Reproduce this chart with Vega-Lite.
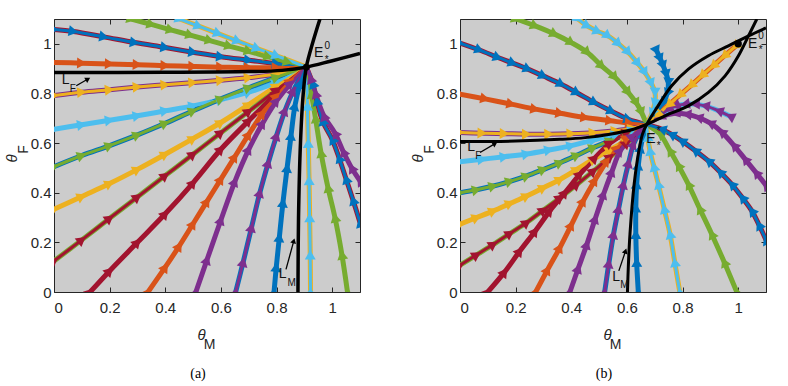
{
"$schema":"https://vega.github.io/schema/vega-lite/v6.json",
"padding":{"left":3,"top":18,"right":0,"bottom":0},
"bounds":"flush",
"spacing":100,
"background":"white",
"config":{
 "view":{"fill":"#cccccc","stroke":"#262626","strokeWidth":1},
 "axis":{"grid":false,"domain":false,"tickColor":"#262626","tickSize":-5,"tickWidth":1,"labelFont":"Liberation Sans","labelFontSize":15,"labelColor":"#262626","titleFont":"Liberation Sans","titleFontSize":15,"titleFontWeight":"normal","titleColor":"#262626"},
 "title":{"font":"Liberation Serif","fontSize":14,"fontWeight":"normal","color":"#000000"}
},
"datasets":{
"lines":[
{"i":"a1","p":"a","c":"blue","e":"red"},{"i":"a2","p":"a","c":"orange","e":"orange"},{"i":"a3","p":"a","c":"yellow","e":"purple"},{"i":"a4","p":"a","c":"cyan","e":"cyan"},{"i":"a5","p":"a","c":"green","e":"blue"},{"i":"a6","p":"a","c":"yellow","e":"yellow"},{"i":"a7","p":"a","c":"red","e":"green"},{"i":"a8","p":"a","c":"red","e":"red"},{"i":"a9","p":"a","c":"orange","e":"orange"},{"i":"a10","p":"a","c":"purple","e":"purple"},{"i":"a11","p":"a","c":"purple","e":"blue"},{"i":"a12","p":"a","c":"blue","e":"blue"},{"i":"a13","p":"a","c":"cyan","e":"yellow"},{"i":"a14","p":"a","c":"green","e":"green"},{"i":"a15","p":"a","c":"blue","e":"red"},{"i":"a16","p":"a","c":"purple","e":"purple"},{"i":"a17","p":"a","c":"green","e":"green"},{"i":"a18","p":"a","c":"cyan","e":"yellow"},
{"i":"b1","p":"b","c":"blue","e":"red"},{"i":"b2","p":"b","c":"orange","e":"orange"},{"i":"b3","p":"b","c":"yellow","e":"purple"},{"i":"b4","p":"b","c":"cyan","e":"cyan"},{"i":"b5","p":"b","c":"green","e":"blue"},{"i":"b6","p":"b","c":"yellow","e":"yellow"},{"i":"b7","p":"b","c":"red","e":"green"},{"i":"b8","p":"b","c":"red","e":"red"},{"i":"b9","p":"b","c":"orange","e":"orange"},{"i":"b10","p":"b","c":"purple","e":"purple"},{"i":"b11","p":"b","c":"purple","e":"blue"},{"i":"b12","p":"b","c":"blue","e":"blue"},{"i":"b13","p":"b","c":"cyan","e":"yellow"},{"i":"b14","p":"b","c":"green","e":"green"},{"i":"b15","p":"b","c":"blue","e":"red"},{"i":"b16","p":"b","c":"purple","e":"purple"},{"i":"b17","p":"b","c":"purple","e":"cyan"},{"i":"b18","p":"b","c":"blue","e":"blue"},{"i":"b19","p":"b","c":"yellow","e":"orange"},{"i":"b20","p":"b","c":"green","e":"green"},{"i":"b21","p":"b","c":"cyan","e":"yellow"}
],
"pts":[
{"i":"a1","x":0,"y":1.058},{"i":"a1","x":0.07,"y":1.05},{"i":"a1","x":0.18,"y":1.028},{"i":"a1","x":0.29,"y":1.005},{"i":"a1","x":0.4,"y":0.985},{"i":"a1","x":0.5,"y":0.966},{"i":"a1","x":0.6,"y":0.948},{"i":"a1","x":0.7,"y":0.934},{"i":"a1","x":0.8,"y":0.92},{"i":"a1","x":0.907,"y":0.906},
{"i":"a2","x":0,"y":0.925},{"i":"a2","x":0.1,"y":0.922},{"i":"a2","x":0.2,"y":0.919},{"i":"a2","x":0.3,"y":0.916},{"i":"a2","x":0.4,"y":0.912},{"i":"a2","x":0.5,"y":0.909},{"i":"a2","x":0.6,"y":0.906},{"i":"a2","x":0.7,"y":0.904},{"i":"a2","x":0.8,"y":0.904},{"i":"a2","x":0.907,"y":0.906},
{"i":"a3","x":0,"y":0.792},{"i":"a3","x":0.1,"y":0.805},{"i":"a3","x":0.2,"y":0.815},{"i":"a3","x":0.3,"y":0.826},{"i":"a3","x":0.4,"y":0.835},{"i":"a3","x":0.5,"y":0.844},{"i":"a3","x":0.6,"y":0.853},{"i":"a3","x":0.7,"y":0.864},{"i":"a3","x":0.8,"y":0.878},{"i":"a3","x":0.907,"y":0.906},
{"i":"a4","x":0,"y":0.656},{"i":"a4","x":0.1,"y":0.674},{"i":"a4","x":0.2,"y":0.692},{"i":"a4","x":0.3,"y":0.71},{"i":"a4","x":0.4,"y":0.73},{"i":"a4","x":0.5,"y":0.75},{"i":"a4","x":0.6,"y":0.775},{"i":"a4","x":0.7,"y":0.805},{"i":"a4","x":0.8,"y":0.845},{"i":"a4","x":0.907,"y":0.906},
{"i":"a5","x":0,"y":0.505},{"i":"a5","x":0.1,"y":0.55},{"i":"a5","x":0.2,"y":0.59},{"i":"a5","x":0.3,"y":0.633},{"i":"a5","x":0.4,"y":0.68},{"i":"a5","x":0.5,"y":0.73},{"i":"a5","x":0.6,"y":0.778},{"i":"a5","x":0.7,"y":0.823},{"i":"a5","x":0.8,"y":0.865},{"i":"a5","x":0.907,"y":0.906},
{"i":"a6","x":0,"y":0.333},{"i":"a6","x":0.1,"y":0.385},{"i":"a6","x":0.2,"y":0.437},{"i":"a6","x":0.3,"y":0.494},{"i":"a6","x":0.4,"y":0.555},{"i":"a6","x":0.5,"y":0.618},{"i":"a6","x":0.6,"y":0.683},{"i":"a6","x":0.7,"y":0.755},{"i":"a6","x":0.8,"y":0.83},{"i":"a6","x":0.907,"y":0.906},
{"i":"a7","x":0,"y":0.125},{"i":"a7","x":0.1,"y":0.21},{"i":"a7","x":0.2,"y":0.297},{"i":"a7","x":0.3,"y":0.383},{"i":"a7","x":0.4,"y":0.469},{"i":"a7","x":0.5,"y":0.555},{"i":"a7","x":0.6,"y":0.642},{"i":"a7","x":0.7,"y":0.728},{"i":"a7","x":0.8,"y":0.814},{"i":"a7","x":0.907,"y":0.906},
{"i":"a8","x":0.13,"y":0},{"i":"a8","x":0.2,"y":0.085},{"i":"a8","x":0.3,"y":0.2},{"i":"a8","x":0.4,"y":0.315},{"i":"a8","x":0.5,"y":0.44},{"i":"a8","x":0.6,"y":0.575},{"i":"a8","x":0.7,"y":0.69},{"i":"a8","x":0.8,"y":0.8},{"i":"a8","x":0.907,"y":0.906},
{"i":"a9","x":0.338,"y":0},{"i":"a9","x":0.4,"y":0.1},{"i":"a9","x":0.45,"y":0.185},{"i":"a9","x":0.5,"y":0.275},{"i":"a9","x":0.55,"y":0.365},{"i":"a9","x":0.6,"y":0.455},{"i":"a9","x":0.65,"y":0.545},{"i":"a9","x":0.7,"y":0.635},{"i":"a9","x":0.75,"y":0.72},{"i":"a9","x":0.8,"y":0.79},{"i":"a9","x":0.85,"y":0.85},{"i":"a9","x":0.907,"y":0.906},
{"i":"a10","x":0.51,"y":0},{"i":"a10","x":0.55,"y":0.13},{"i":"a10","x":0.6,"y":0.29},{"i":"a10","x":0.65,"y":0.445},{"i":"a10","x":0.7,"y":0.575},{"i":"a10","x":0.75,"y":0.68},{"i":"a10","x":0.8,"y":0.77},{"i":"a10","x":0.85,"y":0.84},{"i":"a10","x":0.907,"y":0.906},
{"i":"a11","x":0.653,"y":0},{"i":"a11","x":0.68,"y":0.12},{"i":"a11","x":0.71,"y":0.26},{"i":"a11","x":0.74,"y":0.4},{"i":"a11","x":0.77,"y":0.52},{"i":"a11","x":0.8,"y":0.63},{"i":"a11","x":0.83,"y":0.73},{"i":"a11","x":0.86,"y":0.81},{"i":"a11","x":0.907,"y":0.906},
{"i":"a12","x":0.791,"y":0},{"i":"a12","x":0.799,"y":0.1},{"i":"a12","x":0.81,"y":0.22},{"i":"a12","x":0.823,"y":0.36},{"i":"a12","x":0.838,"y":0.5},{"i":"a12","x":0.852,"y":0.63},{"i":"a12","x":0.866,"y":0.75},{"i":"a12","x":0.885,"y":0.84},{"i":"a12","x":0.907,"y":0.906},
{"i":"a13","x":0.922,"y":0},{"i":"a13","x":0.921,"y":0.15},{"i":"a13","x":0.919,"y":0.3},{"i":"a13","x":0.917,"y":0.45},{"i":"a13","x":0.914,"y":0.6},{"i":"a13","x":0.911,"y":0.75},{"i":"a13","x":0.907,"y":0.906},
{"i":"a14","x":1.055,"y":0},{"i":"a14","x":1.035,"y":0.15},{"i":"a14","x":1.01,"y":0.3},{"i":"a14","x":0.985,"y":0.42},{"i":"a14","x":0.96,"y":0.56},{"i":"a14","x":0.94,"y":0.7},{"i":"a14","x":0.925,"y":0.8},{"i":"a14","x":0.907,"y":0.906},
{"i":"a15","x":1.1,"y":0.28},{"i":"a15","x":1.075,"y":0.37},{"i":"a15","x":1.05,"y":0.455},{"i":"a15","x":1.025,"y":0.54},{"i":"a15","x":1.0,"y":0.615},{"i":"a15","x":0.965,"y":0.69},{"i":"a15","x":0.945,"y":0.77},{"i":"a15","x":0.93,"y":0.84},{"i":"a15","x":0.907,"y":0.906},
{"i":"a16","x":1.1,"y":0.448},{"i":"a16","x":1.07,"y":0.5},{"i":"a16","x":1.04,"y":0.565},{"i":"a16","x":1.01,"y":0.64},{"i":"a16","x":0.97,"y":0.71},{"i":"a16","x":0.94,"y":0.8},{"i":"a16","x":0.922,"y":0.86},{"i":"a16","x":0.907,"y":0.906},
{"i":"a17","x":0.278,"y":1.1},{"i":"a17","x":0.35,"y":1.078},{"i":"a17","x":0.42,"y":1.056},{"i":"a17","x":0.49,"y":1.035},{"i":"a17","x":0.56,"y":1.013},{"i":"a17","x":0.63,"y":0.991},{"i":"a17","x":0.7,"y":0.97},{"i":"a17","x":0.77,"y":0.948},{"i":"a17","x":0.84,"y":0.927},{"i":"a17","x":0.907,"y":0.906},
{"i":"a18","x":0.452,"y":1.1},{"i":"a18","x":0.52,"y":1.071},{"i":"a18","x":0.59,"y":1.041},{"i":"a18","x":0.66,"y":1.011},{"i":"a18","x":0.73,"y":0.981},{"i":"a18","x":0.8,"y":0.952},{"i":"a18","x":0.907,"y":0.906},
{"i":"b1","x":0,"y":1.003},{"i":"b1","x":0.07,"y":0.975},{"i":"b1","x":0.136,"y":0.945},{"i":"b1","x":0.19,"y":0.922},{"i":"b1","x":0.244,"y":0.898},{"i":"b1","x":0.3,"y":0.87},{"i":"b1","x":0.364,"y":0.837},{"i":"b1","x":0.42,"y":0.803},{"i":"b1","x":0.484,"y":0.763},{"i":"b1","x":0.545,"y":0.728},{"i":"b1","x":0.605,"y":0.696},{"i":"b1","x":0.671,"y":0.675},
{"i":"b2","x":0,"y":0.797},{"i":"b2","x":0.09,"y":0.778},{"i":"b2","x":0.184,"y":0.757},{"i":"b2","x":0.27,"y":0.737},{"i":"b2","x":0.36,"y":0.72},{"i":"b2","x":0.45,"y":0.703},{"i":"b2","x":0.54,"y":0.69},{"i":"b2","x":0.61,"y":0.68},{"i":"b2","x":0.671,"y":0.675},
{"i":"b3","x":0,"y":0.643},{"i":"b3","x":0.08,"y":0.64},{"i":"b3","x":0.16,"y":0.638},{"i":"b3","x":0.24,"y":0.636},{"i":"b3","x":0.32,"y":0.636},{"i":"b3","x":0.4,"y":0.638},{"i":"b3","x":0.48,"y":0.642},{"i":"b3","x":0.56,"y":0.65},{"i":"b3","x":0.62,"y":0.66},{"i":"b3","x":0.671,"y":0.675},
{"i":"b4","x":0,"y":0.525},{"i":"b4","x":0.08,"y":0.535},{"i":"b4","x":0.16,"y":0.545},{"i":"b4","x":0.24,"y":0.556},{"i":"b4","x":0.32,"y":0.572},{"i":"b4","x":0.4,"y":0.59},{"i":"b4","x":0.48,"y":0.612},{"i":"b4","x":0.56,"y":0.635},{"i":"b4","x":0.62,"y":0.653},{"i":"b4","x":0.671,"y":0.675},
{"i":"b5","x":0,"y":0.4},{"i":"b5","x":0.06,"y":0.412},{"i":"b5","x":0.12,"y":0.427},{"i":"b5","x":0.18,"y":0.446},{"i":"b5","x":0.24,"y":0.468},{"i":"b5","x":0.3,"y":0.494},{"i":"b5","x":0.36,"y":0.521},{"i":"b5","x":0.42,"y":0.551},{"i":"b5","x":0.48,"y":0.582},{"i":"b5","x":0.54,"y":0.61},{"i":"b5","x":0.6,"y":0.638},{"i":"b5","x":0.671,"y":0.675},
{"i":"b6","x":0,"y":0.273},{"i":"b6","x":0.06,"y":0.3},{"i":"b6","x":0.12,"y":0.327},{"i":"b6","x":0.18,"y":0.357},{"i":"b6","x":0.24,"y":0.387},{"i":"b6","x":0.3,"y":0.42},{"i":"b6","x":0.36,"y":0.454},{"i":"b6","x":0.42,"y":0.494},{"i":"b6","x":0.48,"y":0.535},{"i":"b6","x":0.54,"y":0.573},{"i":"b6","x":0.6,"y":0.613},{"i":"b6","x":0.671,"y":0.675},
{"i":"b7","x":0,"y":0.108},{"i":"b7","x":0.06,"y":0.15},{"i":"b7","x":0.12,"y":0.192},{"i":"b7","x":0.18,"y":0.236},{"i":"b7","x":0.24,"y":0.28},{"i":"b7","x":0.3,"y":0.33},{"i":"b7","x":0.36,"y":0.38},{"i":"b7","x":0.42,"y":0.433},{"i":"b7","x":0.48,"y":0.488},{"i":"b7","x":0.54,"y":0.545},{"i":"b7","x":0.6,"y":0.6},{"i":"b7","x":0.671,"y":0.675},
{"i":"b8","x":0.1,"y":0},{"i":"b8","x":0.16,"y":0.08},{"i":"b8","x":0.215,"y":0.165},{"i":"b8","x":0.27,"y":0.245},{"i":"b8","x":0.323,"y":0.327},{"i":"b8","x":0.377,"y":0.4},{"i":"b8","x":0.431,"y":0.475},{"i":"b8","x":0.485,"y":0.54},{"i":"b8","x":0.539,"y":0.6},{"i":"b8","x":0.6,"y":0.643},{"i":"b8","x":0.671,"y":0.675},
{"i":"b9","x":0.272,"y":0},{"i":"b9","x":0.315,"y":0.09},{"i":"b9","x":0.359,"y":0.179},{"i":"b9","x":0.4,"y":0.27},{"i":"b9","x":0.443,"y":0.367},{"i":"b9","x":0.485,"y":0.45},{"i":"b9","x":0.528,"y":0.528},{"i":"b9","x":0.565,"y":0.58},{"i":"b9","x":0.6,"y":0.622},{"i":"b9","x":0.671,"y":0.675},
{"i":"b10","x":0.395,"y":0},{"i":"b10","x":0.425,"y":0.095},{"i":"b10","x":0.456,"y":0.192},{"i":"b10","x":0.486,"y":0.295},{"i":"b10","x":0.516,"y":0.394},{"i":"b10","x":0.546,"y":0.485},{"i":"b10","x":0.576,"y":0.569},{"i":"b10","x":0.62,"y":0.628},{"i":"b10","x":0.671,"y":0.675},
{"i":"b11","x":0.52,"y":0},{"i":"b11","x":0.535,"y":0.115},{"i":"b11","x":0.552,"y":0.233},{"i":"b11","x":0.57,"y":0.335},{"i":"b11","x":0.588,"y":0.434},{"i":"b11","x":0.606,"y":0.52},{"i":"b11","x":0.624,"y":0.596},{"i":"b11","x":0.645,"y":0.64},{"i":"b11","x":0.671,"y":0.675},
{"i":"b12","x":0.641,"y":0},{"i":"b12","x":0.635,"y":0.12},{"i":"b12","x":0.632,"y":0.233},{"i":"b12","x":0.632,"y":0.34},{"i":"b12","x":0.635,"y":0.434},{"i":"b12","x":0.641,"y":0.51},{"i":"b12","x":0.649,"y":0.58},{"i":"b12","x":0.66,"y":0.635},{"i":"b12","x":0.671,"y":0.675},
{"i":"b13","x":0.79,"y":0},{"i":"b13","x":0.772,"y":0.12},{"i":"b13","x":0.755,"y":0.233},{"i":"b13","x":0.734,"y":0.335},{"i":"b13","x":0.713,"y":0.434},{"i":"b13","x":0.697,"y":0.505},{"i":"b13","x":0.683,"y":0.569},{"i":"b13","x":0.675,"y":0.625},{"i":"b13","x":0.671,"y":0.675},
{"i":"b14","x":0.995,"y":0},{"i":"b14","x":0.95,"y":0.12},{"i":"b14","x":0.905,"y":0.233},{"i":"b14","x":0.862,"y":0.335},{"i":"b14","x":0.821,"y":0.434},{"i":"b14","x":0.785,"y":0.51},{"i":"b14","x":0.755,"y":0.569},{"i":"b14","x":0.719,"y":0.636},{"i":"b14","x":0.671,"y":0.675},
{"i":"b15","x":1.1,"y":0.21},{"i":"b15","x":1.075,"y":0.27},{"i":"b15","x":1.049,"y":0.327},{"i":"b15","x":1.015,"y":0.38},{"i":"b15","x":0.977,"y":0.434},{"i":"b15","x":0.935,"y":0.483},{"i":"b15","x":0.893,"y":0.528},{"i":"b15","x":0.845,"y":0.57},{"i":"b15","x":0.797,"y":0.609},{"i":"b15","x":0.76,"y":0.635},{"i":"b15","x":0.725,"y":0.656},{"i":"b15","x":0.671,"y":0.675},
{"i":"b16","x":1.1,"y":0.43},{"i":"b16","x":1.065,"y":0.48},{"i":"b16","x":1.025,"y":0.535},{"i":"b16","x":0.985,"y":0.59},{"i":"b16","x":0.94,"y":0.645},{"i":"b16","x":0.9,"y":0.68},{"i":"b16","x":0.857,"y":0.703},{"i":"b16","x":0.815,"y":0.716},{"i":"b16","x":0.773,"y":0.72},{"i":"b16","x":0.72,"y":0.705},{"i":"b16","x":0.671,"y":0.675},
{"i":"b17","x":0.971,"y":0.708},{"i":"b17","x":0.93,"y":0.73},{"i":"b17","x":0.881,"y":0.75},{"i":"b17","x":0.845,"y":0.757},{"i":"b17","x":0.809,"y":0.757},{"i":"b17","x":0.775,"y":0.75},{"i":"b17","x":0.749,"y":0.736},{"i":"b17","x":0.71,"y":0.705},{"i":"b17","x":0.671,"y":0.675},
{"i":"b18","x":0.707,"y":0.972},{"i":"b18","x":0.72,"y":0.94},{"i":"b18","x":0.731,"y":0.911},{"i":"b18","x":0.742,"y":0.877},{"i":"b18","x":0.749,"y":0.844},{"i":"b18","x":0.745,"y":0.8},{"i":"b18","x":0.731,"y":0.763},{"i":"b18","x":0.705,"y":0.72},{"i":"b18","x":0.671,"y":0.675},
{"i":"b19","x":0.99,"y":0.99},{"i":"b19","x":0.95,"y":0.951},{"i":"b19","x":0.91,"y":0.911},{"i":"b19","x":0.87,"y":0.872},{"i":"b19","x":0.83,"y":0.832},{"i":"b19","x":0.79,"y":0.793},{"i":"b19","x":0.75,"y":0.754},{"i":"b19","x":0.71,"y":0.714},{"i":"b19","x":0.671,"y":0.675},
{"i":"b20","x":0.202,"y":1.1},{"i":"b20","x":0.27,"y":1.072},{"i":"b20","x":0.34,"y":1.039},{"i":"b20","x":0.4,"y":1.005},{"i":"b20","x":0.458,"y":0.965},{"i":"b20","x":0.51,"y":0.91},{"i":"b20","x":0.557,"y":0.865},{"i":"b20","x":0.605,"y":0.804},{"i":"b20","x":0.635,"y":0.76},{"i":"b20","x":0.653,"y":0.723},{"i":"b20","x":0.671,"y":0.675},
{"i":"b21","x":0.425,"y":1.1},{"i":"b21","x":0.458,"y":1.072},{"i":"b21","x":0.495,"y":1.05},{"i":"b21","x":0.532,"y":1.032},{"i":"b21","x":0.57,"y":1.0},{"i":"b21","x":0.605,"y":0.965},{"i":"b21","x":0.64,"y":0.92},{"i":"b21","x":0.665,"y":0.884},{"i":"b21","x":0.688,"y":0.84},{"i":"b21","x":0.701,"y":0.804},{"i":"b21","x":0.7,"y":0.76},{"i":"b21","x":0.69,"y":0.72},{"i":"b21","x":0.671,"y":0.675}
],
"curves":[
{"p":"a","i":"LF","x":0,"y":0.884},{"p":"a","i":"LF","x":0.4,"y":0.885},{"p":"a","i":"LF","x":0.7,"y":0.888},{"p":"a","i":"LF","x":0.82,"y":0.893},{"p":"a","i":"LF","x":0.907,"y":0.906},{"p":"a","i":"LF","x":0.997,"y":0.931},{"p":"a","i":"LF","x":1.1,"y":0.961},
{"p":"a","i":"LM","x":0.877,"y":0},{"p":"a","i":"LM","x":0.879,"y":0.3},{"p":"a","i":"LM","x":0.886,"y":0.6},{"p":"a","i":"LM","x":0.896,"y":0.8},{"p":"a","i":"LM","x":0.907,"y":0.906},{"p":"a","i":"LM","x":0.932,"y":1.012},{"p":"a","i":"LM","x":0.956,"y":1.1},
{"p":"b","i":"LF","x":0,"y":0.606},{"p":"b","i":"LF","x":0.2,"y":0.608},{"p":"b","i":"LF","x":0.359,"y":0.615},{"p":"b","i":"LF","x":0.45,"y":0.622},{"p":"b","i":"LF","x":0.539,"y":0.636},{"p":"b","i":"LF","x":0.624,"y":0.656},{"p":"b","i":"LF","x":0.671,"y":0.675},{"p":"b","i":"LF","x":0.737,"y":0.71},{"p":"b","i":"LF","x":0.821,"y":0.75},{"p":"b","i":"LF","x":0.893,"y":0.804},{"p":"b","i":"LF","x":0.953,"y":0.871},{"p":"b","i":"LF","x":1.001,"y":0.952},{"p":"b","i":"LF","x":1.037,"y":1.032},{"p":"b","i":"LF","x":1.067,"y":1.1},
{"p":"b","i":"LM","x":0.602,"y":0},{"p":"b","i":"LM","x":0.605,"y":0.1},{"p":"b","i":"LM","x":0.611,"y":0.233},{"p":"b","i":"LM","x":0.626,"y":0.434},{"p":"b","i":"LM","x":0.643,"y":0.569},{"p":"b","i":"LM","x":0.656,"y":0.636},{"p":"b","i":"LM","x":0.671,"y":0.675},{"p":"b","i":"LM","x":0.712,"y":0.75},{"p":"b","i":"LM","x":0.761,"y":0.831},{"p":"b","i":"LM","x":0.821,"y":0.898},{"p":"b","i":"LM","x":0.893,"y":0.952},{"p":"b","i":"LM","x":0.965,"y":0.992},{"p":"b","i":"LM","x":1.037,"y":1.032},{"p":"b","i":"LM","x":1.1,"y":1.064}
],
"dots":[{"p":"a","x":0.907,"y":0.906},{"p":"b","x":1.0,"y":1.0}],
"arrows":[
{"p":"a","x":0.08,"y":0.831,"x2":0.122,"y2":0.858},{"p":"a","x":0.834,"y":0.091,"x2":0.862,"y2":0.206},
{"p":"b","x":0.072,"y":0.562,"x2":0.126,"y2":0.598},{"p":"b","x":0.571,"y":0.085,"x2":0.595,"y2":0.165}
],
"labels":[
{"p":"a","t":"L","k":"main","x":0.042,"y":0.853},{"p":"a","t":"F","k":"sub","x":0.068,"y":0.818},
{"p":"a","t":"L","k":"main","x":0.822,"y":0.072},{"p":"a","t":"M","k":"sub","x":0.854,"y":0.038},
{"p":"a","t":"E","k":"main","x":0.951,"y":0.962},{"p":"a","t":"0","k":"sub","x":0.982,"y":0.993},{"p":"a","t":"*","k":"sub","x":0.98,"y":0.936},
{"p":"b","t":"L","k":"main","x":0.04,"y":0.586},{"p":"b","t":"F","k":"sub","x":0.066,"y":0.547},
{"p":"b","t":"L","k":"main","x":0.561,"y":0.062},{"p":"b","t":"M","k":"sub","x":0.591,"y":0.029},
{"p":"b","t":"E","k":"main","x":0.686,"y":0.616},{"p":"b","t":"*","k":"sub","x":0.714,"y":0.647},{"p":"b","t":"*","k":"sub","x":0.714,"y":0.59},
{"p":"b","t":"E","k":"main","x":1.052,"y":0.999},{"p":"b","t":"0","k":"sub","x":1.082,"y":1.032},{"p":"b","t":"*","k":"sub","x":1.081,"y":0.974}
]
},
"hconcat":[
{
 "width":306,"height":273,
 "title":{"text":"(a)","orient":"bottom","anchor":"middle","offset":16,"dx":-9},
 "resolve":{"axis":{"x":"independent","y":"independent"}},
 "layer":[
  {"data":{"name":"pts"},
   "transform":[{"lookup":"i","from":{"data":{"name":"lines"},"key":"i","fields":["p","c","e"]}},{"filter":"datum.p==='a'"}],
   "mark":{"type":"line","strokeWidth":5,"clip":true,"interpolate":"catmull-rom"},
   "encoding":{
    "x":{"field":"x","type":"quantitative","scale":{"domain":[0,1.1],"nice":false,"zero":false},"axis":{"orient":"bottom","values":[0,0.2,0.4,0.6,0.8,1],"format":"~g","labelPadding":13,"title":"\u03b8","titleFontStyle":"italic","titleX":147,"titleY":42,"titleAlign":"center","titleBaseline":"middle","titleAngle":0}},
    "y":{"field":"y","type":"quantitative","scale":{"domain":[0,1.1],"nice":false,"zero":false},"axis":{"orient":"left","values":[0,0.2,0.4,0.6,0.8,1],"format":"~g","labelPadding":8,"title":"\u03b8","titleFontStyle":"italic","titleX":-43,"titleY":139,"titleAlign":"center","titleBaseline":"middle","titleAngle":-90}},
    "detail":{"field":"i"},
    "color":{"field":"e","type":"nominal","scale":{"domain":["blue","orange","yellow","purple","green","cyan","red"],"range":["#0072BD","#D95319","#EDB120","#7E2F8E","#77AC30","#4DBEEE","#A2142F"]},"legend":null},
    "order":{"value":null}}},
  {"data":{"name":"pts"},
   "transform":[{"lookup":"i","from":{"data":{"name":"lines"},"key":"i","fields":["p","c","e"]}},{"filter":"datum.p==='a'"}],
   "mark":{"type":"line","strokeWidth":3,"clip":true,"interpolate":"catmull-rom"},
   "encoding":{
    "x":{"field":"x","type":"quantitative","scale":{"domain":[0,1.1],"nice":false,"zero":false},"axis":null},
    "y":{"field":"y","type":"quantitative","scale":{"domain":[0,1.1],"nice":false,"zero":false},"axis":null},
    "detail":{"field":"i"},
    "color":{"field":"c","type":"nominal","scale":{"domain":["blue","orange","yellow","purple","green","cyan","red"],"range":["#0072BD","#D95319","#EDB120","#7E2F8E","#77AC30","#4DBEEE","#A2142F"]},"legend":null},
    "order":{"value":null}}},
  {"data":{"name":"pts"},
   "transform":[{"lookup":"i","from":{"data":{"name":"lines"},"key":"i","fields":["p","c","e"]}},{"filter":"datum.p==='a'"},
    {"window":[{"op":"lead","field":"x","as":"nx"},{"op":"lead","field":"y","as":"ny"}],"groupby":["i"]},
    {"filter":"datum.nx != null"},
    {"calculate":"atan2(-(datum.ny-datum.y)*248.2,(datum.nx-datum.x)*278.2)*180/PI","as":"ang"}],
   "mark":{"type":"point","shape":"triangle-right","filled":true,"size":120,"opacity":1,"strokeWidth":0,"clip":true},
   "encoding":{
    "x":{"field":"x","type":"quantitative","scale":{"domain":[0,1.1],"nice":false,"zero":false},"axis":null},
    "y":{"field":"y","type":"quantitative","scale":{"domain":[0,1.1],"nice":false,"zero":false},"axis":null},
    "color":{"field":"c","type":"nominal","scale":{"domain":["blue","orange","yellow","purple","green","cyan","red"],"range":["#0072BD","#D95319","#EDB120","#7E2F8E","#77AC30","#4DBEEE","#A2142F"]},"legend":null},
    "angle":{"field":"ang","type":"quantitative","scale":null}}},
  {"data":{"name":"curves"},
   "transform":[{"filter":"datum.p==='a'"}],
   "mark":{"type":"line","strokeWidth":3.5,"color":"#000000","clip":true,"interpolate":"catmull-rom"},
   "encoding":{
    "x":{"field":"x","type":"quantitative","scale":{"domain":[0,1.1],"nice":false,"zero":false},"axis":{"orient":"top","values":[0,0.2,0.4,0.6,0.8,1],"labels":false,"title":null}},
    "y":{"field":"y","type":"quantitative","scale":{"domain":[0,1.1],"nice":false,"zero":false},"axis":{"orient":"right","values":[0,0.2,0.4,0.6,0.8,1],"labels":false,"title":null}},
    "detail":{"field":"i"},
    "order":{"value":null}}},
  {"data":{"name":"dots"},
   "transform":[{"filter":"datum.p==='a'"}],
   "mark":{"type":"point","shape":"circle","filled":true,"size":45,"opacity":1,"color":"#000000"},
   "encoding":{
    "x":{"field":"x","type":"quantitative","axis":{"orient":"bottom","ticks":false,"labels":false,"domain":false,"title":"M","titleFontSize":14,"titleX":155,"titleY":52,"titleAlign":"center","titleBaseline":"middle","titleAngle":0}},
    "y":{"field":"y","type":"quantitative","axis":{"orient":"left","ticks":false,"labels":false,"domain":false,"title":"F","titleFontSize":14,"titleX":-31,"titleY":130,"titleAlign":"center","titleBaseline":"middle","titleAngle":-90}}}},
  {"data":{"name":"arrows"},
   "transform":[{"filter":"datum.p==='a'"}],
   "mark":{"type":"rule","strokeWidth":1.3,"color":"#000000"},
   "encoding":{
    "x":{"field":"x","type":"quantitative","axis":null},
    "y":{"field":"y","type":"quantitative","axis":null},
    "x2":{"field":"x2"},"y2":{"field":"y2"}}},
  {"data":{"name":"arrows"},
   "transform":[{"filter":"datum.p==='a'"},{"calculate":"atan2(-(datum.y2-datum.y)*248.2,(datum.x2-datum.x)*278.2)*180/PI","as":"ang"}],
   "mark":{"type":"point","shape":"triangle-right","filled":true,"size":35,"opacity":1,"color":"#000000"},
   "encoding":{
    "x":{"field":"x2","type":"quantitative","axis":null},
    "y":{"field":"y2","type":"quantitative","axis":null},
    "angle":{"field":"ang","type":"quantitative","scale":null}}},
  {"data":{"name":"labels"},
   "transform":[{"filter":"datum.p==='a'"}],
   "mark":{"type":"text","font":"Liberation Sans","align":"center","baseline":"middle","color":"#111111"},
   "encoding":{
    "x":{"field":"x","type":"quantitative","axis":null},
    "y":{"field":"y","type":"quantitative","axis":null},
    "text":{"field":"t"},
    "size":{"field":"k","type":"nominal","scale":{"domain":["main","sub"],"range":[14,10]},"legend":null}}}
 ]
},
{
 "width":306,"height":273,
 "title":{"text":"(b)","orient":"bottom","anchor":"middle","offset":16,"dx":-9},
 "resolve":{"axis":{"x":"independent","y":"independent"}},
 "layer":[
  {"data":{"name":"pts"},
   "transform":[{"lookup":"i","from":{"data":{"name":"lines"},"key":"i","fields":["p","c","e"]}},{"filter":"datum.p==='b'"}],
   "mark":{"type":"line","strokeWidth":5,"clip":true,"interpolate":"catmull-rom"},
   "encoding":{
    "x":{"field":"x","type":"quantitative","scale":{"domain":[0,1.1],"nice":false,"zero":false},"axis":{"orient":"bottom","values":[0,0.2,0.4,0.6,0.8,1],"format":"~g","labelPadding":13,"title":"\u03b8","titleFontStyle":"italic","titleX":147,"titleY":42,"titleAlign":"center","titleBaseline":"middle","titleAngle":0}},
    "y":{"field":"y","type":"quantitative","scale":{"domain":[0,1.1],"nice":false,"zero":false},"axis":{"orient":"left","values":[0,0.2,0.4,0.6,0.8,1],"format":"~g","labelPadding":8,"title":"\u03b8","titleFontStyle":"italic","titleX":-43,"titleY":139,"titleAlign":"center","titleBaseline":"middle","titleAngle":-90}},
    "detail":{"field":"i"},
    "color":{"field":"e","type":"nominal","scale":{"domain":["blue","orange","yellow","purple","green","cyan","red"],"range":["#0072BD","#D95319","#EDB120","#7E2F8E","#77AC30","#4DBEEE","#A2142F"]},"legend":null},
    "order":{"value":null}}},
  {"data":{"name":"pts"},
   "transform":[{"lookup":"i","from":{"data":{"name":"lines"},"key":"i","fields":["p","c","e"]}},{"filter":"datum.p==='b'"}],
   "mark":{"type":"line","strokeWidth":3,"clip":true,"interpolate":"catmull-rom"},
   "encoding":{
    "x":{"field":"x","type":"quantitative","scale":{"domain":[0,1.1],"nice":false,"zero":false},"axis":null},
    "y":{"field":"y","type":"quantitative","scale":{"domain":[0,1.1],"nice":false,"zero":false},"axis":null},
    "detail":{"field":"i"},
    "color":{"field":"c","type":"nominal","scale":{"domain":["blue","orange","yellow","purple","green","cyan","red"],"range":["#0072BD","#D95319","#EDB120","#7E2F8E","#77AC30","#4DBEEE","#A2142F"]},"legend":null},
    "order":{"value":null}}},
  {"data":{"name":"pts"},
   "transform":[{"lookup":"i","from":{"data":{"name":"lines"},"key":"i","fields":["p","c","e"]}},{"filter":"datum.p==='b'"},
    {"window":[{"op":"lead","field":"x","as":"nx"},{"op":"lead","field":"y","as":"ny"}],"groupby":["i"]},
    {"filter":"datum.nx != null"},
    {"calculate":"atan2(-(datum.ny-datum.y)*248.2,(datum.nx-datum.x)*278.2)*180/PI","as":"ang"}],
   "mark":{"type":"point","shape":"triangle-right","filled":true,"size":120,"opacity":1,"strokeWidth":0,"clip":true},
   "encoding":{
    "x":{"field":"x","type":"quantitative","scale":{"domain":[0,1.1],"nice":false,"zero":false},"axis":null},
    "y":{"field":"y","type":"quantitative","scale":{"domain":[0,1.1],"nice":false,"zero":false},"axis":null},
    "color":{"field":"c","type":"nominal","scale":{"domain":["blue","orange","yellow","purple","green","cyan","red"],"range":["#0072BD","#D95319","#EDB120","#7E2F8E","#77AC30","#4DBEEE","#A2142F"]},"legend":null},
    "angle":{"field":"ang","type":"quantitative","scale":null}}},
  {"data":{"name":"curves"},
   "transform":[{"filter":"datum.p==='b'"}],
   "mark":{"type":"line","strokeWidth":3,"color":"#000000","clip":true,"interpolate":"catmull-rom"},
   "encoding":{
    "x":{"field":"x","type":"quantitative","scale":{"domain":[0,1.1],"nice":false,"zero":false},"axis":{"orient":"top","values":[0,0.2,0.4,0.6,0.8,1],"labels":false,"title":null}},
    "y":{"field":"y","type":"quantitative","scale":{"domain":[0,1.1],"nice":false,"zero":false},"axis":{"orient":"right","values":[0,0.2,0.4,0.6,0.8,1],"labels":false,"title":null}},
    "detail":{"field":"i"},
    "order":{"value":null}}},
  {"data":{"name":"dots"},
   "transform":[{"filter":"datum.p==='b'"}],
   "mark":{"type":"point","shape":"circle","filled":true,"size":55,"opacity":1,"color":"#000000"},
   "encoding":{
    "x":{"field":"x","type":"quantitative","axis":{"orient":"bottom","ticks":false,"labels":false,"domain":false,"title":"M","titleFontSize":14,"titleX":155,"titleY":52,"titleAlign":"center","titleBaseline":"middle","titleAngle":0}},
    "y":{"field":"y","type":"quantitative","axis":{"orient":"left","ticks":false,"labels":false,"domain":false,"title":"F","titleFontSize":14,"titleX":-31,"titleY":130,"titleAlign":"center","titleBaseline":"middle","titleAngle":-90}}}},
  {"data":{"name":"arrows"},
   "transform":[{"filter":"datum.p==='b'"}],
   "mark":{"type":"rule","strokeWidth":1.3,"color":"#000000"},
   "encoding":{
    "x":{"field":"x","type":"quantitative","axis":null},
    "y":{"field":"y","type":"quantitative","axis":null},
    "x2":{"field":"x2"},"y2":{"field":"y2"}}},
  {"data":{"name":"arrows"},
   "transform":[{"filter":"datum.p==='b'"},{"calculate":"atan2(-(datum.y2-datum.y)*248.2,(datum.x2-datum.x)*278.2)*180/PI","as":"ang"}],
   "mark":{"type":"point","shape":"triangle-right","filled":true,"size":35,"opacity":1,"color":"#000000"},
   "encoding":{
    "x":{"field":"x2","type":"quantitative","axis":null},
    "y":{"field":"y2","type":"quantitative","axis":null},
    "angle":{"field":"ang","type":"quantitative","scale":null}}},
  {"data":{"name":"labels"},
   "transform":[{"filter":"datum.p==='b'"}],
   "mark":{"type":"text","font":"Liberation Sans","align":"center","baseline":"middle","color":"#111111"},
   "encoding":{
    "x":{"field":"x","type":"quantitative","axis":null},
    "y":{"field":"y","type":"quantitative","axis":null},
    "text":{"field":"t"},
    "size":{"field":"k","type":"nominal","scale":{"domain":["main","sub"],"range":[14,10]},"legend":null}}}
 ]
}
]
}
